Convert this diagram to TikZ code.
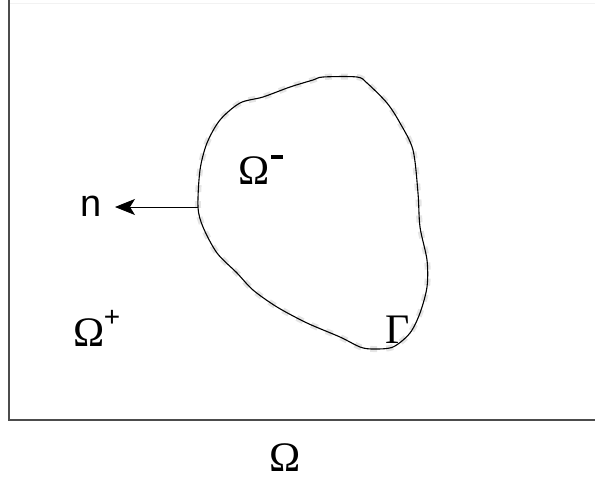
\documentclass[tikz,border=0pt]{standalone}
\usepackage{fontspec}
\setmainfont{Liberation Serif}
\newfontfamily\sansf{Liberation Sans}
\usetikzlibrary{arrows.meta}
\begin{document}
\begin{tikzpicture}[x=1pt,y=-1pt,
  lbl/.style={inner sep=0pt,font=\fontsize{42}{44}\selectfont},
  sup/.style={inner sep=0pt,font=\sansf\fontsize{28}{30}\selectfont},
  frame/.style={draw=black!70,line width=1.6pt},
  bnd/.style={draw=black,line width=1.1pt},
  fuzz/.style={draw=black!10,line width=6pt,dash pattern=on 7pt off 9pt},
  normal/.style={draw=black,line width=0.9pt,-{Stealth[length=20pt,width=16pt,inset=5pt]}}]
\useasboundingbox (0,0) rectangle (595,480);
% frame
\coordinate (tl) at (9,0);
\coordinate (bl) at (9,420);
\coordinate (br) at (595,420);
\coordinate (tr) at (595,3);
\draw[draw=black!5,line width=1pt] (9,3) -- (tr);
\draw[frame] (tl) -- (bl) -- (br);
% boundary Gamma
\def\bpath{(323,77) (357,77) (367,83) (387,103) (400,123) (413,150) (418,193) (420,227) (427,260) (427,287) (420,313) (410,333) (393,347) (373,349) (360,347) (340,337) (307,323) (277,307) (253,290) (237,273) (217,253) (203,227) (198,207) (200,170) (207,143) (220,120) (240,103) (263,97) (290,87) (313,80)}
\draw[fuzz] plot[smooth cycle,tension=0.5] coordinates {\bpath};
\draw[bnd] plot[smooth cycle,tension=0.5] coordinates {\bpath};
% normal
\coordinate (p) at (198,207);
\node[inner sep=0pt,font=\sansf\fontsize{38}{40}\selectfont] (n) at (91,206) {n};
\coordinate (tip) at (115,207);
\draw[normal] (p) -- (tip);
% labels
\node[lbl] (om) at (254,171) {Ω};
\node[sup] (omm) at (277,157) {\rule{12pt}{3.5pt}};
\node[lbl] (op) at (89,333) {Ω};
\node[sup] (opp) at (112,318) {+};
\node[lbl] (g) at (398,330) {Γ};
\node[lbl] (o) at (285,458) {Ω};
\end{tikzpicture}
\end{document}
